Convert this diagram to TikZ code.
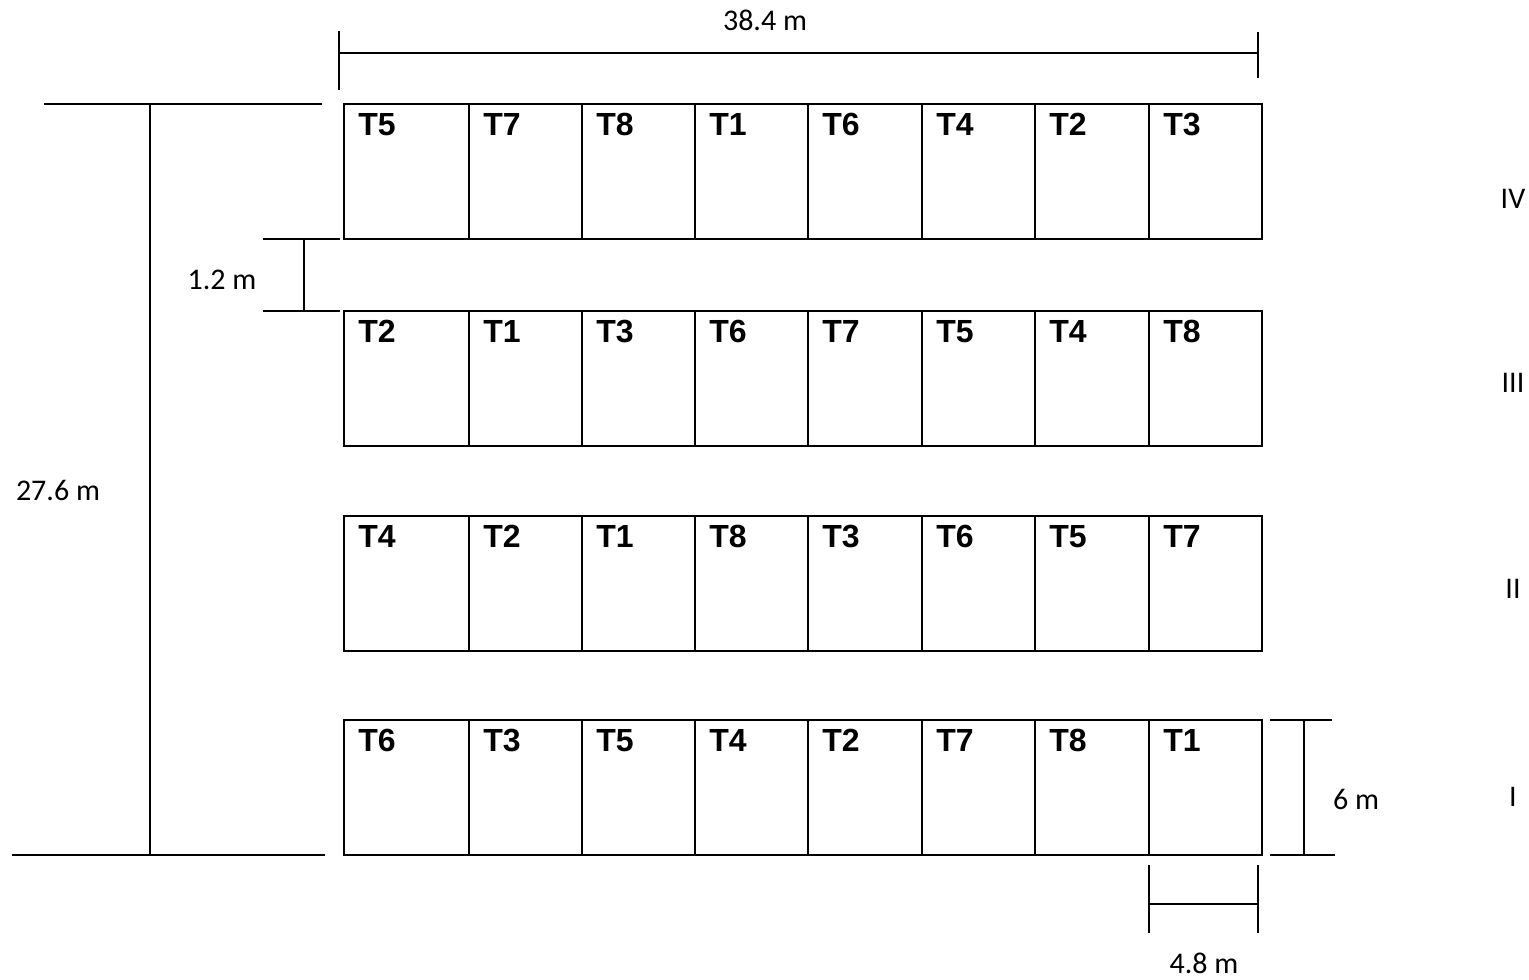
\documentclass[tikz,border=0pt]{standalone}
\usepackage{fontspec}
\setmainfont{Carlito}
\newfontfamily\plotfont{Liberation Sans}
\usetikzlibrary{positioning,calc}

\begin{document}
\begin{tikzpicture}[
    x=0.5pt,y=-0.5pt,
    plotline/.style={draw=black,line width=1.1pt},
    dimline/.style={draw=black,line width=1.3pt},
    trt/.style={anchor=base west,inner sep=0pt,
      font=\plotfont\bfseries\fontsize{16}{18}\selectfont},
    dimlabel/.style={inner sep=0pt,font=\fontsize{15}{17}\selectfont},
    blocklabel/.style={inner sep=0pt,font=\fontsize{15}{17}\selectfont}
  ]
    \useasboundingbox (0,0) rectangle (1529,979);
    % blocks and plots
    \foreach \blk/\ytop/\seq in {IV/104/{5,7,8,1,6,4,2,3},III/311/{2,1,3,6,7,5,4,8},
        II/516/{4,2,1,8,3,6,5,7},I/720/{6,3,5,4,2,7,8,1}}{
      \foreach \t [count=\c] in \seq {
        \pgfmathsetmacro\xl{{344,469,582,695,808,922,1035,1149}[\c-1]}
        \pgfmathsetmacro\xr{{469,582,695,808,922,1035,1149,1262}[\c-1]}
        \draw[plotline] (\xl,\ytop) rectangle (\xr,\ytop+135);
        \node[trt] (p\blk-\c) at (\xl+14,\ytop+31) {T\t};
      }
    }
    \foreach \blk/\ylab in {IV/199,III/383,II/589,I/797}
      \node[blocklabel] (blk\blk) at (1513,\ylab) {\blk};
    % total width
    \coordinate (wl) at (339,53);
    \coordinate (wr) at (1258,53);
    \draw[dimline] (wl) -- (wr);
    \draw[dimline] ($(wl)+(0,-22)$) -- ($(wl)+(0,37)$);
    \draw[dimline] ($(wr)+(0,-21)$) -- ($(wr)+(0,25)$);
    \node[dimlabel] (width) at (765,20) {38.4 m};
    % total length
    \coordinate (lt) at (150,104);
    \coordinate (lb) at (150,855);
    \draw[dimline] (lt) -- (lb);
    \draw[dimline] ($(lt)+(-106,0)$) -- ($(lt)+(172,0)$);
    \draw[dimline] ($(lb)+(-138,0)$) -- ($(lb)+(175,0)$);
    \node[dimlabel] (length) at (58,490) {27.6 m};
    % path between blocks
    \coordinate (gt) at (304,239);
    \coordinate (gb) at (304,311);
    \draw[dimline] (gt) -- (gb);
    \draw[dimline] ($(gt)+(-41,0)$) -- ($(gt)+(36,0)$);
    \draw[dimline] ($(gb)+(-41,0)$) -- ($(gb)+(36,0)$);
    \node[dimlabel] (gap) at (222,280) {1.2 m};
    % plot length
    \coordinate (ht) at (1304,720);
    \coordinate (hb) at (1304,855);
    \draw[dimline] (ht) -- (hb);
    \draw[dimline] ($(ht)+(-34,0)$) -- ($(ht)+(28,0)$);
    \draw[dimline] ($(hb)+(-34,0)$) -- ($(hb)+(31,0)$);
    \node[dimlabel] (plotlen) at (1356,799) {6 m};
    % plot width
    \coordinate (vl) at (1149,904);
    \coordinate (vr) at (1258,904);
    \draw[dimline] (vl) -- (vr);
    \draw[dimline] ($(vl)+(0,-39)$) -- ($(vl)+(0,29)$);
    \draw[dimline] ($(vr)+(0,-39)$) -- ($(vr)+(0,29)$);
    \node[dimlabel] (plotwid) at (1204,963) {4.8 m};
  \end{tikzpicture}
\end{document}
